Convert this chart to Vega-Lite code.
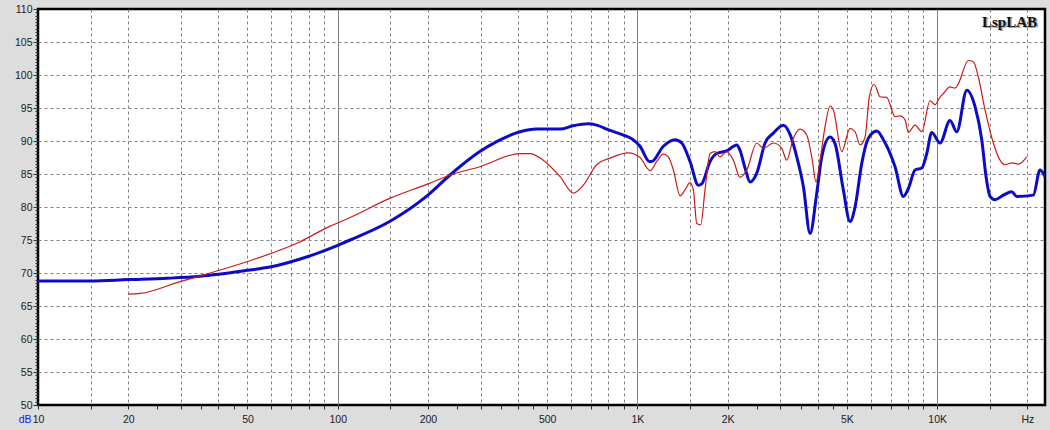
{
  "$schema": "https://vega.github.io/schema/vega-lite/v6.json",
  "width": 1007,
  "height": 396,
  "autosize": {"type": "none"},
  "padding": {"left": 38, "top": 9, "right": 5, "bottom": 25},
  "background": "#dddddd",
  "config": {
    "view": {"fill": "white", "stroke": "black", "strokeWidth": 2.5},
    "axis": {"labelFont": "Liberation Sans", "labelFontSize": 10.5, "labelColor": "#202020", "domain": false, "tickColor": "#303030", "gridColor": "#808080"}
  },
  "datasets": {
    "blue": [
      {"f": 10, "db": 68.8}, {"f": 15, "db": 68.8}, {"f": 20, "db": 69.0}, {"f": 27, "db": 69.2},
      {"f": 34.7, "db": 69.5}, {"f": 40, "db": 69.8}, {"f": 50, "db": 70.4}, {"f": 59.4, "db": 70.9},
      {"f": 79.6, "db": 72.5}, {"f": 100, "db": 74.2}, {"f": 110, "db": 75.0}, {"f": 149, "db": 77.8},
      {"f": 200, "db": 81.8}, {"f": 237, "db": 84.85}, {"f": 298, "db": 88.4}, {"f": 339, "db": 89.9},
      {"f": 406, "db": 91.4}, {"f": 461, "db": 91.8}, {"f": 552, "db": 91.8}, {"f": 610, "db": 92.3},
      {"f": 686, "db": 92.6}, {"f": 731, "db": 92.4}, {"f": 810, "db": 91.6}, {"f": 898, "db": 90.9},
      {"f": 960, "db": 90.3}, {"f": 1020, "db": 89.2}, {"f": 1096, "db": 86.9}, {"f": 1116, "db": 86.9},
      {"f": 1220, "db": 89.2}, {"f": 1335, "db": 90.2}, {"f": 1405, "db": 89.7}, {"f": 1498, "db": 86.9},
      {"f": 1597, "db": 83.3}, {"f": 1639, "db": 83.5}, {"f": 1747, "db": 86.9}, {"f": 1839, "db": 88.1},
      {"f": 1986, "db": 88.5}, {"f": 2145, "db": 89.4}, {"f": 2199, "db": 88.6}, {"f": 2286, "db": 85.9},
      {"f": 2376, "db": 83.8}, {"f": 2500, "db": 85.1}, {"f": 2666, "db": 89.7}, {"f": 2841, "db": 91.2},
      {"f": 3068, "db": 92.4}, {"f": 3230, "db": 91.0}, {"f": 3401, "db": 87.6}, {"f": 3578, "db": 83.1},
      {"f": 3767, "db": 76.0}, {"f": 3966, "db": 82.1}, {"f": 4121, "db": 87.6}, {"f": 4392, "db": 90.6},
      {"f": 4563, "db": 89.6}, {"f": 4864, "db": 82.6}, {"f": 5121, "db": 77.8}, {"f": 5322, "db": 80.0},
      {"f": 5603, "db": 86.6}, {"f": 5894, "db": 90.4}, {"f": 6288, "db": 91.5}, {"f": 6615, "db": 90.2},
      {"f": 7236, "db": 86.1}, {"f": 7716, "db": 81.6}, {"f": 8017, "db": 82.8}, {"f": 8438, "db": 85.6},
      {"f": 8885, "db": 85.9}, {"f": 9232, "db": 88.1}, {"f": 9594, "db": 91.3}, {"f": 10225, "db": 89.7},
      {"f": 11041, "db": 93.1}, {"f": 11627, "db": 91.4}, {"f": 12556, "db": 97.7}, {"f": 13381, "db": 95.2},
      {"f": 14086, "db": 90.2}, {"f": 14561, "db": 84.6}, {"f": 15014, "db": 81.6}, {"f": 15603, "db": 81.1},
      {"f": 16636, "db": 81.8}, {"f": 17742, "db": 82.3}, {"f": 18437, "db": 81.6}, {"f": 20941, "db": 81.8},
      {"f": 22039, "db": 85.6}, {"f": 22909, "db": 84.6}
    ],
    "red": [
      {"f": 20, "db": 66.8}, {"f": 21.9, "db": 66.9}, {"f": 29.8, "db": 68.7}, {"f": 37.5, "db": 70.0},
      {"f": 49.7, "db": 71.7}, {"f": 73, "db": 74.5}, {"f": 94.3, "db": 77.1}, {"f": 110, "db": 78.4},
      {"f": 149, "db": 81.3}, {"f": 200, "db": 83.5}, {"f": 237, "db": 84.85}, {"f": 298, "db": 86.1},
      {"f": 406, "db": 88.1}, {"f": 438, "db": 88.1}, {"f": 485, "db": 87.1}, {"f": 552, "db": 84.6},
      {"f": 611, "db": 82.1}, {"f": 660, "db": 83.3}, {"f": 731, "db": 86.4}, {"f": 810, "db": 87.4},
      {"f": 932, "db": 88.2}, {"f": 1020, "db": 87.5}, {"f": 1102, "db": 85.5}, {"f": 1160, "db": 86.9},
      {"f": 1220, "db": 88.0}, {"f": 1268, "db": 87.6}, {"f": 1318, "db": 85.6}, {"f": 1388, "db": 81.7},
      {"f": 1441, "db": 82.6}, {"f": 1498, "db": 83.7}, {"f": 1537, "db": 82.6}, {"f": 1577, "db": 77.5},
      {"f": 1626, "db": 77.3}, {"f": 1681, "db": 82.6}, {"f": 1747, "db": 88.1}, {"f": 1815, "db": 88.4},
      {"f": 1886, "db": 87.6}, {"f": 1986, "db": 88.4}, {"f": 2089, "db": 87.1}, {"f": 2199, "db": 84.5},
      {"f": 2316, "db": 85.6}, {"f": 2500, "db": 89.7}, {"f": 2631, "db": 88.9}, {"f": 2841, "db": 89.7},
      {"f": 3030, "db": 88.9}, {"f": 3148, "db": 87.1}, {"f": 3313, "db": 90.4}, {"f": 3488, "db": 91.8},
      {"f": 3672, "db": 90.9}, {"f": 3816, "db": 87.6}, {"f": 3944, "db": 83.8}, {"f": 4068, "db": 87.1},
      {"f": 4227, "db": 92.2}, {"f": 4392, "db": 95.3}, {"f": 4505, "db": 94.7}, {"f": 4806, "db": 88.4},
      {"f": 5121, "db": 91.9}, {"f": 5322, "db": 91.4}, {"f": 5531, "db": 89.4}, {"f": 5747, "db": 90.6},
      {"f": 5939, "db": 96.7}, {"f": 6160, "db": 98.6}, {"f": 6451, "db": 96.7}, {"f": 6790, "db": 96.6},
      {"f": 7236, "db": 93.7}, {"f": 7523, "db": 93.8}, {"f": 7817, "db": 93.2}, {"f": 8017, "db": 91.3},
      {"f": 8438, "db": 92.4}, {"f": 8885, "db": 91.4}, {"f": 9469, "db": 96.1}, {"f": 9840, "db": 95.5},
      {"f": 10170, "db": 96.5}, {"f": 10488, "db": 97.2}, {"f": 11041, "db": 98.2}, {"f": 11475, "db": 98.0},
      {"f": 11770, "db": 98.7}, {"f": 12710, "db": 102.2}, {"f": 13207, "db": 102.0}, {"f": 13724, "db": 99.7},
      {"f": 14447, "db": 94.7}, {"f": 15397, "db": 89.7}, {"f": 16213, "db": 87.1}, {"f": 16849, "db": 86.4},
      {"f": 17742, "db": 86.7}, {"f": 18664, "db": 86.5}, {"f": 19907, "db": 87.6}
    ]
  },
  "layer": [
    {
      "data": {"name": "blue"},
      "mark": {"type": "line", "color": "#0b0bc8", "strokeWidth": 3, "interpolate": "monotone", "clip": true},
      "encoding": {
        "x": {
          "field": "f", "type": "quantitative",
          "scale": {"type": "log", "domain": [10, 22900], "nice": false},
          "axis": {
            "title": null,
            "tickCount": 500,
            "values": [10,15,20,25,30,35,40,45,50,60,70,80,90,100,150,200,250,300,350,400,450,500,600,700,800,900,1000,1500,2000,2500,3000,3500,4000,4500,5000,6000,7000,8000,9000,10000,15000,20000],
            "grid": true,
            "gridDash": {"condition": {"test": "indexof([100,1000,10000], datum.value) >= 0", "value": []}, "value": [3, 3]},
            "gridOpacity": {"condition": {"test": "indexof([10,25,35,45,250,350,450,2500,3500,4500], datum.value) >= 0", "value": 0}, "value": 1},
            "ticks": true,
            "tickSize": 4,
            "labelPadding": 5,
            "labelOverlap": false,
            "labelFlush": false,
            "labelBound": false,
            "labelExpr": "datum.value == 20000 ? 'Hz' : indexof([10,20,50,100,200,500], datum.value) >= 0 ? '' + datum.value : indexof([1000,2000,5000,10000], datum.value) >= 0 ? (datum.value / 1000) + 'K' : ''"
          }
        },
        "y": {
          "field": "db", "type": "quantitative",
          "scale": {"domain": [50, 110], "nice": false, "zero": false},
          "axis": {
            "title": "dB",
            "titleAngle": 0,
            "titleX": -7,
            "titleY": 405.5,
            "titleAlign": "right",
            "titleBaseline": "top",
            "titleColor": "#1515ee",
            "titleFont": "Liberation Sans",
            "titleFontSize": 10.5,
            "titleFontWeight": "normal",
            "tickCount": 500,
            "values": [50,50.5,51,51.5,52,52.5,53,53.5,54,54.5,55,55.5,56,56.5,57,57.5,58,58.5,59,59.5,60,60.5,61,61.5,62,62.5,63,63.5,64,64.5,65,65.5,66,66.5,67,67.5,68,68.5,69,69.5,70,70.5,71,71.5,72,72.5,73,73.5,74,74.5,75,75.5,76,76.5,77,77.5,78,78.5,79,79.5,80,80.5,81,81.5,82,82.5,83,83.5,84,84.5,85,85.5,86,86.5,87,87.5,88,88.5,89,89.5,90,90.5,91,91.5,92,92.5,93,93.5,94,94.5,95,95.5,96,96.5,97,97.5,98,98.5,99,99.5,100,100.5,101,101.5,102,102.5,103,103.5,104,104.5,105,105.5,106,106.5,107,107.5,108,108.5,109,109.5,110],
            "labelExpr": "datum.value % 5 == 0 ? '' + datum.value : ''",
            "labelOverlap": false,
            "labelFlush": false,
            "labelBound": false,
            "labelPadding": 1,
            "ticks": true,
            "tickSize": {"condition": {"test": "datum.value % 5 == 0", "value": 5}, "value": 3},
            "grid": true,
            "gridDash": [3, 3],
            "gridOpacity": {"condition": {"test": "datum.value % 5 != 0 || datum.value == 50 || datum.value == 110", "value": 0}, "value": 1}
          }
        }
      }
    },
    {
      "data": {"name": "red"},
      "mark": {"type": "line", "color": "#cc1a1a", "strokeWidth": 1.2, "interpolate": "monotone", "clip": true},
      "encoding": {
        "x": {"field": "f", "type": "quantitative"},
        "y": {"field": "db", "type": "quantitative"}
      }
    },
    {
      "data": {"values": [{}]},
      "mark": {"type": "text", "font": "Liberation Serif", "fontSize": 15, "fontWeight": "bold", "align": "right", "baseline": "alphabetic", "color": "#a0a0a0", "dx": 1.5, "dy": 1.5},
      "encoding": {"x": {"datum": 21544}, "y": {"datum": 107.3}, "text": {"value": "LspLAB"}}
    },
    {
      "data": {"values": [{}]},
      "mark": {"type": "text", "font": "Liberation Serif", "fontSize": 15, "fontWeight": "bold", "align": "right", "baseline": "alphabetic", "color": "#111111"},
      "encoding": {"x": {"datum": 21544}, "y": {"datum": 107.3}, "text": {"value": "LspLAB"}}
    }
  ]
}
